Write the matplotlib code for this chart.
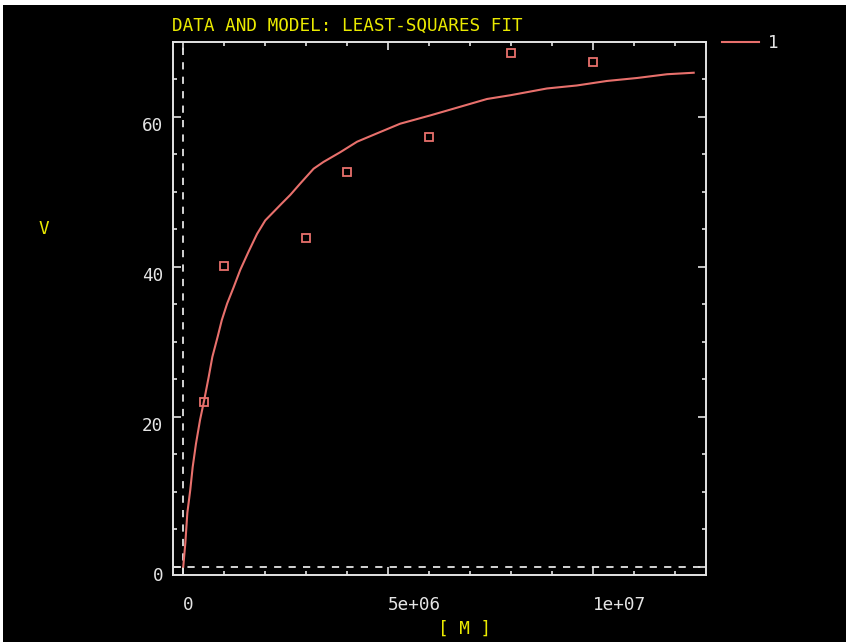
import matplotlib
matplotlib.use("Agg")
import matplotlib.pyplot as plt
from matplotlib.patches import Rectangle
from matplotlib.ticker import MultipleLocator, FuncFormatter

# measured substrate concentrations [M] and rates V
conc = [0.5e6, 1e6, 3e6, 4e6, 6e6, 8e6, 10e6]
rate = [22.0, 40.1, 43.9, 52.6, 57.3, 68.5, 67.3]

# fitted model curve (sampled)
fit_conc = [0.0, 0.05e6, 0.1e6, 0.17e6, 0.23e6, 0.31e6, 0.41e6, 0.51e6, 0.62e6,
            0.71e6, 0.84e6, 0.94e6, 1.07e6, 1.23e6, 1.39e6, 1.59e6, 1.80e6,
            2.0e6, 2.41e6, 2.61e6, 2.85e6, 3.18e6, 3.42e6, 3.83e6, 4.24e6,
            4.72e6, 5.29e6, 6.02e6, 6.59e6, 7.41e6, 7.98e6, 8.87e6, 9.60e6,
            10.33e6, 11.07e6, 11.80e6, 12.45e6]
fit_rate = [0.0, 3.1, 7.2, 10.2, 13.3, 16.4, 19.6, 22.2, 25.3,
            28.0, 30.7, 32.9, 35.1, 37.3, 39.6, 42.0, 44.4,
            46.2, 48.5, 49.6, 51.1, 53.1, 54.0, 55.3, 56.7,
            57.8, 59.1, 60.2, 61.1, 62.4, 62.9, 63.8, 64.2,
            64.8, 65.2, 65.7, 65.9]

W, H = 846, 642
fg = "#e4e4e4"
red = "#e8706c"
yellow = "#eaea00"
fs = 12.7
plt.rcParams["font.family"] = ["DejaVu Sans Mono"]
plt.rcParams["font.size"] = fs

fig = plt.figure(figsize=(W / 100, H / 100), dpi=100, facecolor="white")
fig.patches.append(Rectangle((3 / W, 0), 1, 1 - 5 / H, transform=fig.transFigure,
                             facecolor="black", edgecolor="none", zorder=-10))

ax = fig.add_axes([173 / W, 1 - 575 / H, (706 - 173) / W, (575 - 42) / H])
ax.set_facecolor("black")
for s in ax.spines.values():
    s.set_color(fg)
    s.set_linewidth(1.4)

ax.set_xlim(-0.25e6, 12.75e6)
ax.set_ylim(-1.1, 70)

# zero axes
ax.axhline(0, color=fg, lw=1.3, ls=(0, (4, 4)), zorder=1)
ax.axvline(0, color=fg, lw=1.3, ls=(0, (4, 4)), zorder=1)

ax.plot(fit_conc, fit_rate, color=red, lw=1.5, label="1", zorder=3)
ax.plot(conc, rate, ls="none", marker="s", ms=6, mfc="none", mec=red, mew=1.3, zorder=4)

ax.xaxis.set_major_locator(MultipleLocator(5e6))
ax.xaxis.set_minor_locator(MultipleLocator(1e6))
ax.yaxis.set_major_locator(MultipleLocator(20))
ax.yaxis.set_minor_locator(MultipleLocator(5))
fmt = FuncFormatter(lambda v, p: "0" if v == 0 else "%g" % v)
ax.xaxis.set_major_formatter(fmt)
ax.yaxis.set_major_formatter(fmt)

ax.tick_params(which="both", direction="in", top=True, right=True, colors=fg, width=1.2)
ax.tick_params(which="major", length=6)
ax.tick_params(which="minor", length=3)
ax.tick_params(axis="x", pad=15, labelsize=fs)
ax.tick_params(axis="y", pad=7, labelsize=fs)
for lab in ax.get_xticklabels():
    lab.set_horizontalalignment("left")
for lab in ax.get_yticklabels():
    lab.set_verticalalignment("top")

fig.text(172 / W, 1 - 17 / H, "DATA AND MODEL: LEAST-SQUARES FIT", color=yellow,
         ha="left", va="top", fontsize=fs)
fig.text(44 / W, 1 - 229 / H, "V", color=yellow, ha="center", va="center", fontsize=fs)
fig.text(465 / W, 1 - 629 / H, "[ M ]", color=yellow, ha="center", va="center", fontsize=fs)

leg = ax.legend(loc="upper left", bbox_to_anchor=(722 / W, 1 - 34 / H),
                bbox_transform=fig.transFigure, frameon=False, borderpad=0,
                borderaxespad=0, handlelength=2.1, handletextpad=0.5, fontsize=fs)
for t in leg.get_texts():
    t.set_color(fg)

fig.savefig("out.png", dpi=100, facecolor=fig.get_facecolor())
